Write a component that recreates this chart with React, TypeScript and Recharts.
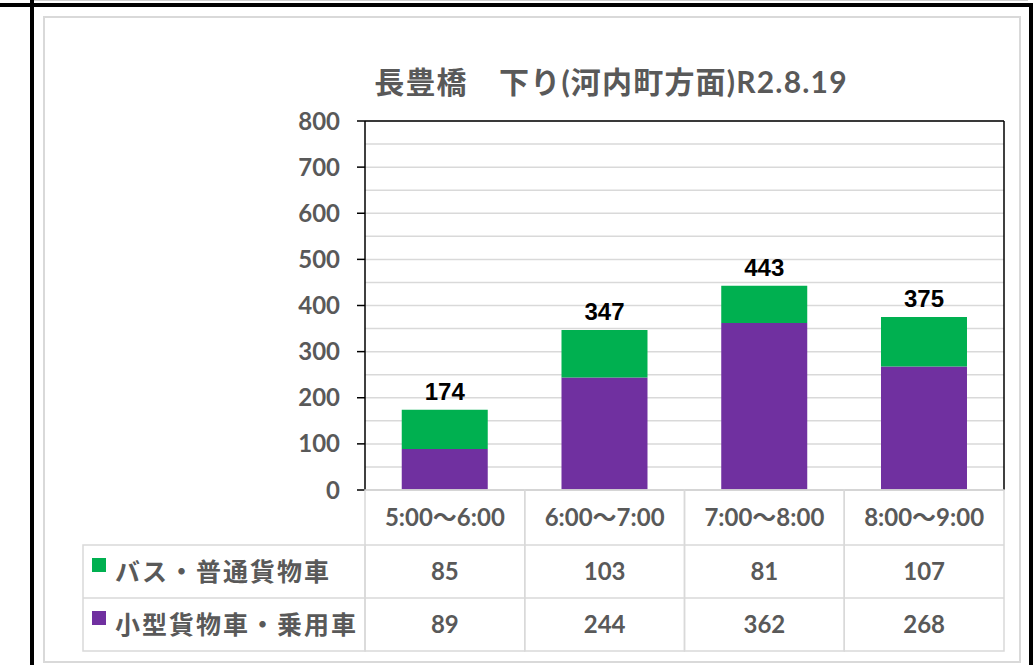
import React from "react";
import { BarChart, Bar, XAxis, YAxis, CartesianGrid, ReferenceLine, LabelList } from "recharts";

// 長豊橋 下り(河内町方面) R2.8.19 — hourly counts
const SLOTS = ["5:00～6:00", "6:00～7:00", "7:00～8:00", "8:00～9:00"];
const BUS_TRUCK = [85, 103, 81, 107];
const SMALL_CAR = [89, 244, 362, 268];
const TOTALS = [174, 347, 443, 375];
const SERIES_NAMES = ["バス・普通貨物車", "小型貨物車・乗用車"];

const Y_TICKS = [0, 100, 200, 300, 400, 500, 600, 700, 800];
const MINOR_TICKS = [0, 50, 100, 150, 200, 250, 300, 350, 400, 450, 500, 550, 600, 650, 700, 750, 800];

const GREEN = "#00B050";
const PURPLE = "#7030A0";
const GRAY_TEXT = "#595959";
const LINE = "#d9d9d9";
const FONT = '"Lato", "Noto Sans CJK JP", sans-serif';

const W = 1034;
const H = 665;
const Y_AXIS_W = 60;
const RIGHT_AXIS_W = 1;
const MARGIN = { top: 121, right: 30 - RIGHT_AXIS_W, bottom: 14, left: 305 };
const PLOT_W = W - MARGIN.left - MARGIN.right - Y_AXIS_W - RIGHT_AXIS_W;
const CELL_W = PLOT_W / SLOTS.length;
const HEAD_H = 55;
const ROW_H = 53;
const LEGEND_W = 282;

const rows = SLOTS.map((slot, i) => ({
  slot,
  big: BUS_TRUCK[i],
  small: SMALL_CAR[i],
  total: TOTALS[i],
}));

const tableRows = [
  { name: SERIES_NAMES[0], color: GREEN, values: BUS_TRUCK },
  { name: SERIES_NAMES[1], color: PURPLE, values: SMALL_CAR },
];

function TableColumn(props: any) {
  const { x, y, payload } = props;
  const i = payload.index ?? props.index;
  const left = x - CELL_W / 2;
  const textStyle = { fontFamily: FONT, fontWeight: 700, fontSize: 24, fill: GRAY_TEXT };
  return (
    <g>
      <rect x={left} y={y} width={CELL_W} height={HEAD_H + ROW_H * 2} fill="none" stroke={LINE} strokeWidth={1.5} />
      <line x1={left} x2={left + CELL_W} y1={y + HEAD_H} y2={y + HEAD_H} stroke={LINE} strokeWidth={1.5} />
      <line x1={left} x2={left + CELL_W} y1={y + HEAD_H + ROW_H} y2={y + HEAD_H + ROW_H} stroke={LINE} strokeWidth={1.5} />
      <text x={x} y={y + 36} textAnchor="middle" style={textStyle}>{payload.value}</text>
      {tableRows.map((r, k) => (
        <text key={k} x={x} y={y + HEAD_H + ROW_H * k + 35} textAnchor="middle" style={textStyle}>
          {r.values[i]}
        </text>
      ))}
      {i === 0 && (
        <g>
          <rect x={left - LEGEND_W} y={y + HEAD_H} width={LEGEND_W} height={ROW_H * 2} fill="none" stroke={LINE} strokeWidth={1.5} />
          <line x1={left - LEGEND_W} x2={left} y1={y + HEAD_H + ROW_H} y2={y + HEAD_H + ROW_H} stroke={LINE} strokeWidth={1.5} />
          {tableRows.map((r, k) => (
            <g key={k}>
              <rect x={left - LEGEND_W + 9} y={y + HEAD_H + ROW_H * k + 13} width={14} height={14} fill={r.color} />
              <text
                x={left - LEGEND_W + 32}
                y={y + HEAD_H + ROW_H * k + 36}
                style={{ ...textStyle, fontSize: 25, letterSpacing: 2 }}
              >
                {r.name}
              </text>
            </g>
          ))}
        </g>
      )}
    </g>
  );
}

function TotalLabel(props: any) {
  const { x, y, width, value } = props;
  return (
    <text
      x={x + width / 2}
      y={y - 10}
      textAnchor="middle"
      style={{ fontFamily: '"Liberation Sans", Arial, sans-serif', fontWeight: 700, fontSize: 24, fill: "#000" }}
    >
      {value}
    </text>
  );
}

export default function App() {
  return (
    <div style={{ position: "absolute", left: 0, top: 0, width: W, height: H, background: "#fff" }}>
      <svg width={W} height={H} style={{ position: "absolute", left: 0, top: 0 }}>
        <line x1={34} x2={1028} y1={0.5} y2={0.5} stroke="#d0d0d0" strokeWidth={1} />
        <rect x={0} y={3} width={1031} height={4} fill="#000" />
        <rect x={30} y={0} width={4} height={H} fill="#000" />
        <rect x={1029} y={3} width={4} height={H - 3} fill="#000" />
        <rect x={44} y={17} width={976} height={645} fill="none" stroke={LINE} strokeWidth={2} />
        <text
          x={611}
          y={93}
          textAnchor="middle"
          style={{ fontFamily: FONT, fontWeight: 700, fontSize: 30, letterSpacing: 1.2, fill: GRAY_TEXT }}
        >
          長豊橋　下り(河内町方面)R2.8.19
        </text>
      </svg>
      <div style={{ position: "absolute", left: 0, top: 0 }}>
        <BarChart width={W} height={H} data={rows} margin={MARGIN} barCategoryGap="23%">
          <CartesianGrid
            yAxisId="main"
            vertical={false}
            horizontalValues={MINOR_TICKS}
            stroke={LINE}
            strokeWidth={1.5}
          />
          <XAxis
            dataKey="slot"
            height={HEAD_H + ROW_H * 2}
            interval={0}
            tickSize={0}
            tickMargin={0}
            tickLine={false}
            axisLine={{ stroke: "#bfbfbf", strokeWidth: 1.5 }}
            tick={<TableColumn />}
          />
          <YAxis
            yAxisId="main"
            domain={[0, 800]}
            ticks={Y_TICKS}
            width={Y_AXIS_W}
            tickSize={8}
            tickMargin={17}
            axisLine={{ stroke: "#000", strokeWidth: 1.5 }}
            tickLine={{ stroke: "#000", strokeWidth: 1.5 }}
            tick={{ fontFamily: FONT, fontWeight: 700, fontSize: 24, fill: GRAY_TEXT }}
          />
          <YAxis
            yAxisId="minor"
            orientation="right"
            dataKey="total"
            domain={[0, 800]}
            width={RIGHT_AXIS_W}
            tick={false}
            tickLine={false}
            axisLine={{ stroke: "#000", strokeWidth: 1.5 }}
          />
          <ReferenceLine yAxisId="main" y={800} stroke="#000" strokeWidth={1.5} />
          <Bar yAxisId="main" dataKey="small" stackId="a" fill={PURPLE} isAnimationActive={false} />
          <Bar yAxisId="main" dataKey="big" stackId="a" fill={GREEN} isAnimationActive={false}>
            <LabelList dataKey="total" content={<TotalLabel />} />
          </Bar>
        </BarChart>
      </div>
    </div>
  );
}
